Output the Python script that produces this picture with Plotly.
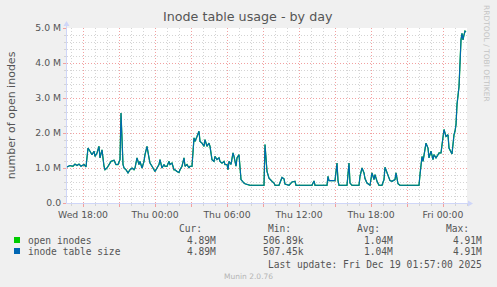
import plotly.graph_objects as go

# ---------------- data ----------------
times = [
    "2025-12-17 16:40", "2025-12-17 16:55", "2025-12-17 17:10", "2025-12-17 17:20", "2025-12-17 17:30",
    "2025-12-17 17:40", "2025-12-17 17:50", "2025-12-17 18:05", "2025-12-17 18:15", "2025-12-17 18:25",
    "2025-12-17 18:35", "2025-12-17 18:45", "2025-12-17 18:55", "2025-12-17 19:00", "2025-12-17 19:10",
    "2025-12-17 19:20", "2025-12-17 19:25", "2025-12-17 19:35", "2025-12-17 19:45", "2025-12-17 19:50",
    "2025-12-17 20:00", "2025-12-17 20:10", "2025-12-17 20:20", "2025-12-17 20:35", "2025-12-17 20:45",
    "2025-12-17 20:55", "2025-12-17 21:05", "2025-12-17 21:10", "2025-12-17 21:20", "2025-12-17 21:25",
    "2025-12-17 21:35", "2025-12-17 21:45", "2025-12-17 21:55", "2025-12-17 22:05", "2025-12-17 22:15",
    "2025-12-17 22:20", "2025-12-17 22:30", "2025-12-17 22:40", "2025-12-17 22:45", "2025-12-17 22:55",
    "2025-12-17 23:05", "2025-12-17 23:10", "2025-12-17 23:20", "2025-12-17 23:30", "2025-12-17 23:35",
    "2025-12-17 23:45", "2025-12-17 23:55",
    "2025-12-18 00:00", "2025-12-18 00:10", "2025-12-18 00:20", "2025-12-18 00:25", "2025-12-18 00:35",
    "2025-12-18 00:45", "2025-12-18 00:50", "2025-12-18 01:00", "2025-12-18 01:10", "2025-12-18 01:15",
    "2025-12-18 01:25", "2025-12-18 01:35", "2025-12-18 01:40", "2025-12-18 01:50", "2025-12-18 02:00",
    "2025-12-18 02:05", "2025-12-18 02:15", "2025-12-18 02:25", "2025-12-18 02:30", "2025-12-18 02:40",
    "2025-12-18 02:50", "2025-12-18 02:55", "2025-12-18 03:05", "2025-12-18 03:15", "2025-12-18 03:20",
    "2025-12-18 03:30", "2025-12-18 03:40", "2025-12-18 03:45", "2025-12-18 03:55", "2025-12-18 04:05",
    "2025-12-18 04:10", "2025-12-18 04:20", "2025-12-18 04:30", "2025-12-18 04:35", "2025-12-18 04:45",
    "2025-12-18 04:55", "2025-12-18 05:00", "2025-12-18 05:10", "2025-12-18 05:20", "2025-12-18 05:25",
    "2025-12-18 05:35", "2025-12-18 05:45", "2025-12-18 05:50", "2025-12-18 06:00", "2025-12-18 06:05",
    "2025-12-18 06:10", "2025-12-18 06:20", "2025-12-18 06:30", "2025-12-18 06:35", "2025-12-18 06:45",
    "2025-12-18 06:50", "2025-12-18 07:00", "2025-12-18 07:05", "2025-12-18 07:10", "2025-12-18 07:25",
    "2025-12-18 07:30", "2025-12-18 07:55", "2025-12-18 09:05", "2025-12-18 09:10", "2025-12-18 09:20",
    "2025-12-18 09:30", "2025-12-18 09:35", "2025-12-18 09:45", "2025-12-18 09:55", "2025-12-18 10:00",
    "2025-12-18 10:20", "2025-12-18 10:35", "2025-12-18 10:45", "2025-12-18 10:50", "2025-12-18 11:10",
    "2025-12-18 11:25", "2025-12-18 11:40", "2025-12-18 11:45", "2025-12-18 13:05", "2025-12-18 13:15",
    "2025-12-18 13:20", "2025-12-18 14:20", "2025-12-18 14:25", "2025-12-18 14:30", "2025-12-18 15:00",
    "2025-12-18 15:10", "2025-12-18 15:15", "2025-12-18 15:20", "2025-12-18 16:00", "2025-12-18 16:10",
    "2025-12-18 16:15", "2025-12-18 16:25", "2025-12-18 17:00", "2025-12-18 17:05", "2025-12-18 17:15",
    "2025-12-18 17:25", "2025-12-18 17:30", "2025-12-18 17:40", "2025-12-18 17:55", "2025-12-18 18:05",
    "2025-12-18 18:15", "2025-12-18 18:20", "2025-12-18 18:30", "2025-12-18 18:40", "2025-12-18 18:55",
    "2025-12-18 19:05", "2025-12-18 19:10", "2025-12-18 19:15", "2025-12-18 19:25", "2025-12-18 19:35",
    "2025-12-18 19:45", "2025-12-18 20:00", "2025-12-18 20:05", "2025-12-18 20:15", "2025-12-18 20:25",
    "2025-12-18 22:00", "2025-12-18 22:05", "2025-12-18 22:15", "2025-12-18 22:20", "2025-12-18 22:30",
    "2025-12-18 22:35", "2025-12-18 22:45", "2025-12-18 22:50", "2025-12-18 23:00", "2025-12-18 23:10",
    "2025-12-18 23:15", "2025-12-18 23:25", "2025-12-18 23:35", "2025-12-18 23:40", "2025-12-18 23:50",
    "2025-12-19 00:00", "2025-12-19 00:05", "2025-12-19 00:15", "2025-12-19 00:25", "2025-12-19 00:30",
    "2025-12-19 00:40", "2025-12-19 00:45", "2025-12-19 00:55", "2025-12-19 01:00", "2025-12-19 01:05",
    "2025-12-19 01:10", "2025-12-19 01:20", "2025-12-19 01:25", "2025-12-19 01:30", "2025-12-19 01:35",
    "2025-12-19 01:40", "2025-12-19 01:45", "2025-12-19 01:50", "2025-12-19 01:55",
]

# values in millions
open_inodes = [
    1.03, 1.07, 1.05, 1.11, 1.07, 1.11, 1.05, 1.10, 1.03, 1.57,
    1.48, 1.38, 1.48, 1.33, 1.43, 1.62, 1.29, 1.52, 1.05, 0.95,
    1.00, 1.08, 1.19, 1.22, 1.10, 1.10, 1.24, 2.57, 1.10, 1.00,
    0.95, 0.86, 0.95, 1.00, 0.95, 1.00, 1.29, 1.10, 1.19, 1.00,
    1.19, 1.38, 1.62, 1.29, 1.14, 1.05, 0.95,
    0.90, 1.00, 1.10, 1.24, 1.00, 1.10, 1.05, 1.05, 1.19, 1.10,
    1.14, 0.95, 0.95, 0.90, 0.87, 0.95, 1.05, 1.29, 1.05, 1.10,
    1.00, 1.05, 1.05, 1.86, 1.76, 1.90, 2.05, 1.76, 1.71, 1.62,
    1.81, 1.62, 1.71, 1.62, 1.24, 1.19, 1.33, 1.24, 1.29, 1.19,
    1.14, 1.19, 1.10, 1.10, 0.95, 1.19, 1.10, 1.43, 1.33, 1.05,
    1.29, 1.38, 1.10, 0.67, 0.57, 0.55, 0.507, 0.507, 1.67, 0.90,
    0.71, 0.67, 0.62, 0.57, 0.507, 0.507, 0.73, 0.69, 0.54, 0.507,
    0.60, 0.62, 0.507, 0.507, 0.63, 0.507, 0.507, 0.76, 0.64, 0.64,
    1.14, 0.64, 0.507, 0.507, 1.14, 0.57, 0.507, 0.507, 0.76, 1.00,
    0.86, 0.70, 0.57, 0.507, 0.86, 0.67, 0.81, 0.62, 0.507, 0.507,
    0.67, 1.02, 0.95, 0.76, 0.64, 0.62, 0.67, 0.86, 0.55, 0.507,
    0.507, 0.81, 1.33, 1.19, 1.48, 1.71, 1.57, 1.29, 1.48, 1.24,
    1.38, 1.29, 1.38, 1.43, 1.43,
    1.81, 2.10, 1.90, 1.95, 1.57, 1.43, 1.40, 1.95, 2.05, 2.24,
    2.81, 3.32, 4.13, 4.66, 4.85, 4.66, 4.80, 4.91, 4.89,
]
# the two series coincide at this resolution
inode_table_size = list(open_inodes)

series_names = ["open inodes", "inode table size"]
series_colors = ["#00CC00", "#0066B3"]
cur_vals = ["4.89M", "4.89M"]
min_vals = ["506.89k", "507.45k"]
avg_vals = ["1.04M", "1.04M"]
max_vals = ["4.91M", "4.91M"]

y_tickvals = [0, 1, 2, 3, 4, 5]
y_ticktext = ["0.0", "1.0 M", "2.0 M", "3.0 M", "4.0 M", "5.0 M"]
x_tickvals = [
    "2025-12-17 18:00", "2025-12-17 21:00", "2025-12-18 00:00", "2025-12-18 03:00",
    "2025-12-18 06:00", "2025-12-18 09:00", "2025-12-18 12:00", "2025-12-18 15:00",
    "2025-12-18 18:00", "2025-12-18 21:00", "2025-12-19 00:00",
]
x_ticktext = ["Wed 18:00", "", "Thu 00:00", "", "Thu 06:00", "", "Thu 12:00", "",
              "Thu 18:00", "", "Fri 00:00"]
x_range = ["2025-12-17 16:40", "2025-12-19 02:00"]

# ---------------- layout helpers ----------------
W, H = 497, 287
PL, PR, PT, PB = 67, 467, 28, 203


def fx(px):
    return (px - PL) / (PR - PL)


def fy(py):
    return (PB - py) / (PB - PT)


TXT = "#555555"
SANS = "DejaVu Sans"
MONO = "DejaVu Sans Mono"
MAJ = "#F2A0A0"
MIN = "#D4D4D4"
AXC = "#CFD6F8"
DASH = "1px,2px"

fig = go.Figure()
fig.add_trace(go.Scatter(x=times, y=open_inodes, mode="lines", name=series_names[0],
                         line=dict(color=series_colors[0], width=1.25), hoverinfo="skip"))
fig.add_trace(go.Scatter(x=times, y=inode_table_size, mode="lines", name=series_names[1],
                         line=dict(color=series_colors[1], width=1.1), hoverinfo="skip"))

fig.update_layout(
    width=W, height=H,
    margin=dict(l=PL, r=W - PR, t=PT, b=H - PB, pad=0),
    paper_bgcolor="#F0F0F0", plot_bgcolor="#FFFFFF",
    showlegend=False,
    font=dict(family=SANS, color=TXT, size=9.3),
)

fig.update_xaxes(
    type="date", range=x_range, tickmode="array", tickvals=x_tickvals, ticktext=x_ticktext,
    showgrid=True, gridcolor=MAJ, griddash=DASH, gridwidth=1,
    ticks="outside", ticklen=3, tickcolor=MAJ, tickfont=dict(size=9.3, color=TXT),
    showline=False, zeroline=False,
    minor=dict(dtick=3600000, tick0="2025-12-17 00:00", showgrid=True, gridcolor=MIN,
               griddash=DASH, ticks="outside", ticklen=2, tickcolor=MIN),
)
fig.update_yaxes(
    range=[0, 5], tickmode="array", tickvals=y_tickvals, ticktext=y_ticktext,
    showgrid=True, gridcolor=MAJ, griddash=DASH, gridwidth=1,
    ticks="outside", ticklen=3, tickcolor=MAJ, tickfont=dict(size=9.3, color=TXT),
    showline=False, zeroline=False,
    minor=dict(dtick=0.2, tick0=0, showgrid=True, gridcolor=MIN, griddash=DASH,
               ticks="outside", ticklen=2, tickcolor=MIN),
    title=dict(text="number of open inodes", font=dict(size=11, color=TXT), standoff=17),
)

shapes = [
    # axes
    dict(type="line", xref="paper", yref="paper", x0=fx(66.5), x1=fx(66.5), y0=fy(203.5), y1=fy(24),
         line=dict(color=AXC, width=1)),
    dict(type="line", xref="paper", yref="paper", x0=fx(66.5), x1=fx(470), y0=fy(203.5), y1=fy(203.5),
         line=dict(color=AXC, width=1)),
    dict(type="path", xref="paper", yref="paper",
         path=f"M {fx(63.5)} {fy(26)} L {fx(69.5)} {fy(26)} L {fx(66.5)} {fy(21)} Z",
         fillcolor=AXC, line=dict(color=AXC, width=0)),
    dict(type="path", xref="paper", yref="paper",
         path=f"M {fx(468)} {fy(200.5)} L {fx(468)} {fy(206.5)} L {fx(473)} {fy(203.5)} Z",
         fillcolor=AXC, line=dict(color=AXC, width=0)),
]
legend_rows_y = [240, 251]
for yy, col in zip(legend_rows_y, series_colors):
    shapes.append(dict(type="rect", xref="paper", yref="paper",
                       x0=fx(14), x1=fx(20), y0=fy(yy - 3), y1=fy(yy + 3),
                       fillcolor=col, line=dict(color=col, width=0)))
fig.update_layout(shapes=shapes)

ann = []


def text(x, y, s, xa="left", size=9.6, family=MONO, color=TXT, angle=0):
    ann.append(dict(x=fx(x), y=fy(y), xref="paper", yref="paper", text=s, showarrow=False,
                    xanchor=xa, yanchor="middle", textangle=angle,
                    font=dict(family=family, size=size, color=color)))


text(248, 17, "Inode table usage - by day", xa="center", size=12.7, family=SANS)
text(487, 53, "RRDTOOL / TOBI OETIKER", xa="center", size=7.5, family=SANS, color="#C4C4C4", angle=90)
text(204, 228, "Cur:", xa="right")
text(293, 228, "Min:", xa="right")
text(382, 228, "Avg:", xa="right")
text(471, 228, "Max:", xa="right")
for yy, name, c, mn, av, mx in zip(legend_rows_y, series_names, cur_vals, min_vals, avg_vals, max_vals):
    text(25.5, yy, name)
    text(217.5, yy, c, xa="right")
    text(306, yy, mn, xa="right")
    text(395, yy, av, xa="right")
    text(484, yy, mx, xa="right")
text(484, 264, "Last update: Fri Dec 19 01:57:00 2025", xa="right")
text(248, 276, "Munin 2.0.76", xa="center", size=7.5, family=SANS, color="#B4B4B4")
fig.update_layout(annotations=ann)

fig.write_html("out.html")
